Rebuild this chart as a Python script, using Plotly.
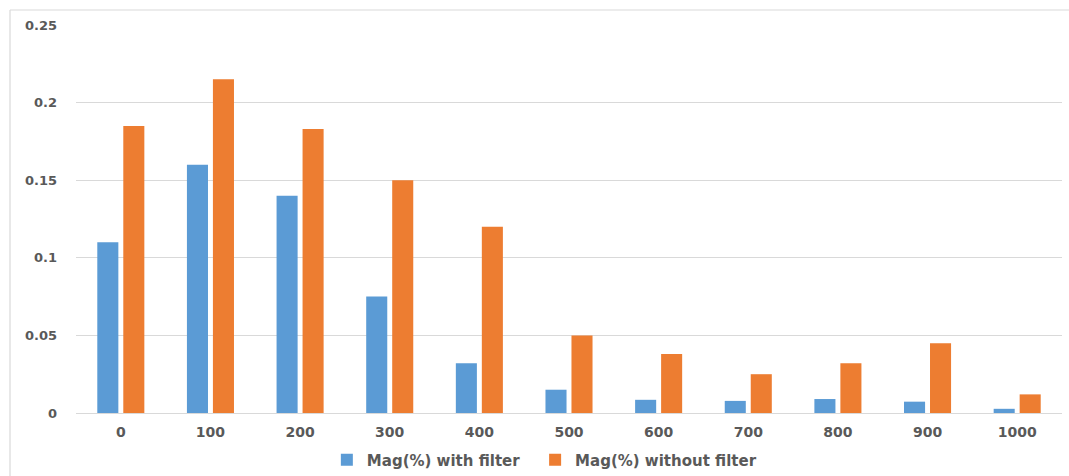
import plotly.graph_objects as go

# Frequency (Hz) categories and magnitude values for the two configurations
freqs = ["0", "100", "200", "300", "400", "500", "600", "700", "800", "900", "1000"]
mag_with_filter = [0.11, 0.16, 0.14, 0.075, 0.032, 0.015, 0.0085, 0.0078, 0.009, 0.0073, 0.0027]
mag_without_filter = [0.185, 0.215, 0.183, 0.15, 0.12, 0.05, 0.038, 0.025, 0.032, 0.045, 0.012]
y_ticks = [0, 0.05, 0.1, 0.15, 0.2, 0.25]
y_tick_text = ["0", "0.05", "0.1", "0.15", "0.2", "0.25"]
series_names = ["Mag(%) with filter", "Mag(%) without filter"]

BLUE = "#5B9BD5"
ORANGE = "#ED7D31"
GRID = "#D9D9D9"
TEXT = "#595959"
FONT = "DejaVu Sans"
PAD = "\u00a0\u00a0"  # extra spacing between legend entries

fig = go.Figure()
fig.add_trace(go.Bar(x=freqs, y=mag_with_filter, name=series_names[0] + PAD,
                     marker=dict(color=BLUE, line=dict(width=0))))
fig.add_trace(go.Bar(x=freqs, y=mag_without_filter, name=series_names[1],
                     marker=dict(color=ORANGE, line=dict(width=0))))

W, H = 1069, 476
L, R, T, B = 76, 7, 25, 63
pw, ph = W - L - R, H - T - B

# Chart-area frame (left and top edges visible)
fx = (10 - L) / pw
fy = 1 + (T - 10) / ph
frame = dict(color=GRID, width=1.2)
shapes = [
    dict(type="line", xref="paper", yref="paper", x0=fx, x1=fx, y0=-1, y1=fy, line=frame),
    dict(type="line", xref="paper", yref="paper", x0=fx, x1=2, y0=fy, y1=fy, line=frame),
]

fig.update_layout(
    width=W, height=H,
    margin=dict(l=L, r=R, t=T, b=B, autoexpand=False),
    paper_bgcolor="white", plot_bgcolor="white",
    barmode="group", bargap=0.42, bargroupgap=0.19,
    font=dict(family=FONT, size=13, color=TEXT, weight="bold"),
    shapes=shapes,
    showlegend=True,
    legend=dict(orientation="h", x=0.475, xanchor="center", y=-0.121, yanchor="middle",
                font=dict(family=FONT, size=15, color=TEXT, weight="bold"),
                itemwidth=30, traceorder="normal"),
    xaxis=dict(type="category", showgrid=False, showline=True, linecolor=GRID, linewidth=1,
               ticks="", tickfont=dict(family=FONT, size=14, color=TEXT, weight="bold"),
               ticklabelstandoff=6),
    yaxis=dict(range=[0, 0.25], tickvals=y_ticks, ticktext=y_tick_text,
               showgrid=True, gridcolor=GRID, gridwidth=1, zeroline=True, zerolinecolor=GRID,
               zerolinewidth=1, ticks="", showline=False,
               tickfont=dict(family=FONT, size=13, color=TEXT, weight="bold"),
               ticklabelstandoff=18),
)

fig.write_html("out.html")
